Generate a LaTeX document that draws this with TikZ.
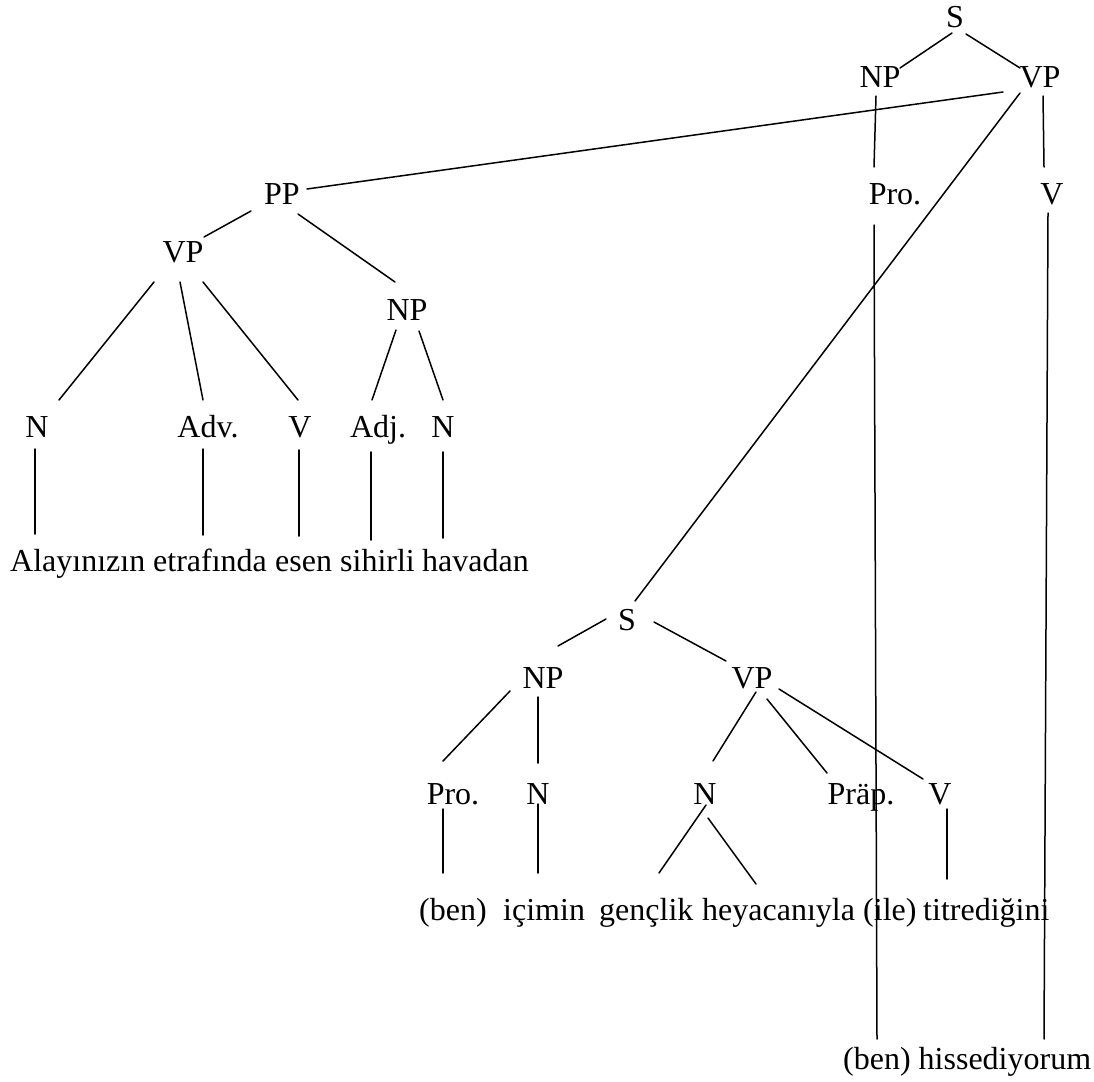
\documentclass[tikz,border=0pt]{standalone}
\usepackage{fontspec}
\setmainfont{Liberation Serif}
\begin{document}
\begin{tikzpicture}[x=1pt,y=-1pt,
  lbl/.style={inner sep=0pt,anchor=base,font=\fontsize{32}{38}\selectfont},
  word/.style={inner sep=0pt,anchor=base west,font=\fontsize{32}{38}\selectfont},
  branch/.style={line width=1.5pt,line cap=round}]
\useasboundingbox (0,0) rectangle (1094,1081);
\newcommand{\link}[4]{\draw[branch] ([shift={(#2)}]#1) -- ([shift={(#4)}]#3);}

% main clause
\node[lbl] (tS) at (955,28) {S};
\node[lbl] (tNP) at (880,87) {NP};
\node[lbl] (tVP) at (1040,87) {VP};
\node[lbl] (tPro) at (895,204) {Pro.};
\node[lbl] (tV) at (1052,204) {V};

% prepositional phrase
\node[lbl] (pp) at (282,204) {PP};
\node[lbl] (vp) at (183,262) {VP};
\node[lbl] (np) at (407,320) {NP};
\node[lbl] (n1) at (37,437) {N};
\node[lbl] (adv) at (208,437) {Adv.};
\node[lbl] (v1) at (300,437) {V};
\node[lbl] (adj) at (378,437) {Adj.};
\node[lbl] (n2) at (443,437) {N};
\node[word] (w1) at (10,571) {Alayınızın};
\node[word] (w2) at (153,571) {etrafında};
\node[word] (w3) at (275,571) {esen};
\node[word] (w4) at (340,571) {sihirli};
\node[word] (w5) at (422,571) {havadan};

% embedded clause
\node[lbl] (sS) at (627,630) {S};
\node[lbl] (sNP) at (543,688) {NP};
\node[lbl] (sVP) at (752,688) {VP};
\node[lbl] (sPro) at (453,804) {Pro.};
\node[lbl] (sN) at (538,804) {N};
\node[lbl] (sN2) at (705,804) {N};
\node[lbl] (sPrap) at (861,804) {Präp.};
\node[lbl] (sV) at (940,804) {V};
\node[word] (b1) at (419,920) {(ben)};
\node[word] (b2) at (503,920) {içimin};
\node[word] (b3) at (599,920) {gençlik};
\node[word] (b4) at (702,920) {heyacanıyla};
\node[word] (b5) at (863,920) {(ile)};
\node[word] (b6) at (923,920) {titrediğini};

% main clause leaves
\node[word] (f1) at (843,1069) {(ben)};
\node[word] (f2) at (918.5,1069) {hissediyorum};

% branches of the main clause
\link{tS.base}{-3,5}{tNP.base}{20,-19}
\link{tS.base}{11,6}{tVP.base}{-20,-19}
\link{tNP.base}{-4,9}{tPro.base}{-21,-37}
\link{tVP.base}{3,9}{tV.base}{-8,-37}
\link{tVP.base}{-37,5}{pp.base}{25,-15}
\link{tVP.base}{-20,6}{sS.base}{8,-29}
\link{tPro.base}{-21,21}{f1.base west}{34,-30}
\link{tV.base}{-4,9}{f2.base west}{125.5,-30}

% branches of the prepositional phrase
\link{pp.base}{-31,7}{vp.base}{21,-25}
\link{pp.base}{16,10}{np.base}{-12,-38}
\link{vp.base}{-29,20}{n1.base}{22,-37}
\link{vp.base}{-3,20}{adv.base}{-5,-37}
\link{vp.base}{20,20}{v1.base}{-2,-37}
\link{np.base}{-11,10}{adj.base}{-6,-37}
\link{np.base}{12,11}{n2.base}{0,-37}
\link{n1.base}{-2,12}{w1.base west}{25,-37}
\link{adv.base}{-5,12}{w2.base west}{50,-36}
\link{v1.base}{-1,13}{w3.base west}{24,-35}
\link{adj.base}{-7,15}{w4.base west}{31,-31}
\link{n2.base}{0,15}{w5.base west}{21,-33}

% branches of the embedded clause
\link{sS.base}{-21,-11}{sNP.base}{15,-42}
\link{sS.base}{27,-8}{sVP.base}{-26,-27}
\link{sNP.base}{-33,3}{sPro.base}{-10,-43}
\link{sNP.base}{-5,9}{sN.base}{0,-41}
\link{sVP.base}{4,4}{sN2.base}{8,-43}
\link{sVP.base}{15,11}{sPrap.base}{-34,-31}
\link{sVP.base}{27,1}{sV.base}{-17,-25}
\link{sPro.base}{-10,5}{b1.base west}{24,-47}
\link{sN.base}{0,0}{b2.base west}{35,-47}
\link{sN2.base}{1,1}{b3.base west}{60,-47}
\link{sN2.base}{3,14}{b4.base west}{54,-36}
\link{sV.base}{7,5}{b6.base west}{24,-41}
\end{tikzpicture}
\end{document}
